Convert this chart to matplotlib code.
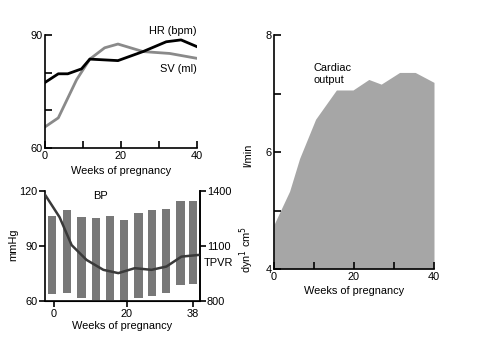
import matplotlib
matplotlib.use("Agg")
import matplotlib.pyplot as plt

plt.rcParams['font.family'] = ['Liberation Sans', 'DejaVu Sans']

# Heart rate and stroke volume over pregnancy
hr_weeks = [0, 3.5, 6, 9.6, 11.8, 19.2, 25.8, 31.9, 35.8, 40]
hr_bpm = [77.4, 79.7, 79.7, 81.0, 83.6, 83.2, 85.6, 88.2, 88.7, 86.9]
sv_weeks = [0, 3.5, 8.3, 11.8, 15.7, 19.2, 25.8, 32.8, 40]
sv_ml = [65.6, 68.0, 78.1, 83.6, 86.6, 87.6, 85.6, 85.1, 83.8]

# Blood pressure ranges (diastolic-systolic) and peripheral resistance
bp_weeks = [-0.5, 3.5, 7.5, 11.5, 15.4, 19.1, 23.1, 26.9, 30.6, 34.6, 38.1]
bp_sys = [106.6, 109.4, 106.0, 105.1, 106.4, 104.2, 107.8, 109.4, 110.1, 114.6, 114.3]
bp_dia = [64.0, 64.1, 61.6, 60.4, 60.4, 59.5, 61.8, 62.5, 64.3, 68.6, 69.5]
tpvr_weeks = [-2.5, 1.5, 4.8, 8.9, 13.5, 17.6, 22.1, 26.7, 30.8, 34.9, 39.5]
tpvr = [1380, 1257, 1105, 1024, 970, 952, 979, 970, 988, 1042, 1051]

# Cardiac output
co_weeks = [0, 3.9, 6.4, 10.4, 15.6, 19.75, 23.7, 26.8, 31.4, 35.3, 40]
co_lmin = [4.76, 5.33, 5.89, 6.56, 7.06, 7.06, 7.24, 7.16, 7.36, 7.36, 7.19]

FS = 7.9
W, H = 481, 339
fig = plt.figure(figsize=(W / 100, H / 100), dpi=100)


def box(l, r, t, b):
    return [l / W, (H - b) / H, (r - l) / W, (b - t) / H]


def style(ax, right=False):
    ax.spines['top'].set_visible(False)
    if not right:
        ax.spines['right'].set_visible(False)
    for s in ax.spines.values():
        s.set_linewidth(1.2)
    ax.tick_params(labelsize=FS, length=5, width=1.2, pad=1.5)


# --- HR / SV panel ---
ax1 = fig.add_axes(box(45, 197, 35, 148))
style(ax1)
ax1.plot(hr_weeks, hr_bpm, color='black', lw=2.0, zorder=3)
ax1.plot(sv_weeks, sv_ml, color='#8a8a8a', lw=2.0, zorder=2)
ax1.set_xlim(0, 40)
ax1.set_ylim(60, 90)
ax1.set_xticks([0, 10, 20, 30, 40])
ax1.set_xticklabels(['0', '', '20', '', '40'])
ax1.set_yticks([60, 70, 80, 90])
ax1.set_yticklabels(['60', '', '', '90'])
ax1.tick_params(direction='in')
ax1.tick_params(axis='x', pad=2)
ax1.set_xlabel('Weeks of pregnancy', fontsize=FS, labelpad=4)
ax1.text(40, 91.0, 'HR (bpm)', fontsize=FS, ha='right', va='center',
         clip_on=False)
ax1.text(40, 80.9, 'SV (ml)', fontsize=FS, ha='right', va='center')

# --- BP / TPVR panel ---
ax2 = fig.add_axes(box(45, 200, 191, 301))
style(ax2, right=True)
heights = [s - d for s, d in zip(bp_sys, bp_dia)]
ax2.bar(bp_weeks, heights, bottom=bp_dia, width=2.3, color='#787878',
        edgecolor='none', zorder=1)
ax2.set_xlim(-2.5, 40)
ax2.set_ylim(60, 120)
ax2.set_xticks([0, 20, 38])
ax2.set_yticks([60, 90, 120])
ax2.tick_params(direction='out', length=4)
ax2.set_ylabel('mmHg', fontsize=FS)
ax2.yaxis.set_label_coords(-0.174, 0.51)
ax2.set_xlabel('Weeks of pregnancy', fontsize=FS, labelpad=2)
ax2.text(12.6, 117, 'BP', fontsize=FS, ha='center', va='center')

ax2r = ax2.twinx()
ax2r.spines['top'].set_visible(False)
ax2r.spines['left'].set_visible(False)
ax2r.spines['right'].set_linewidth(1.2)
ax2r.plot(tpvr_weeks, tpvr, color='#3a3a3a', lw=1.8, zorder=3)
ax2r.set_ylim(800, 1400)
ax2r.set_yticks([800, 1100, 1400])
ax2r.tick_params(labelsize=FS, length=4, width=1.2, pad=1)
ax2r.set_ylabel('dyn$^{1}$ cm$^{5}$', fontsize=FS)
ax2r.yaxis.set_label_coords(1.239, 0.47)
ax2r.text(41, 1005, 'TPVR', fontsize=FS, ha='left', va='center', clip_on=False)

# --- Cardiac output panel ---
ax3 = fig.add_axes(box(274, 434, 35, 269))
style(ax3)
ax3.fill_between(co_weeks, 4, co_lmin, color='#a6a6a6', lw=0)
ax3.set_xlim(0, 40)
ax3.set_ylim(4, 8)
ax3.set_xticks([0, 10, 20, 30, 40])
ax3.set_xticklabels(['0', '', '20', '', '40'])
ax3.set_yticks([4, 5, 6, 7, 8])
ax3.set_yticklabels(['4', '', '6', '', '8'])
ax3.tick_params(direction='in')
ax3.tick_params(axis='x', pad=2)
ax3.set_xlabel('Weeks of pregnancy', fontsize=FS, labelpad=3)
ax3.set_ylabel('l/min', fontsize=FS)
ax3.yaxis.set_label_coords(-0.131, 0.487)
ax3.text(10, 7.52, 'Cardiac\noutput', fontsize=FS, ha='left', va='top',
         linespacing=1.3)

fig.savefig('out.png', dpi=100)
